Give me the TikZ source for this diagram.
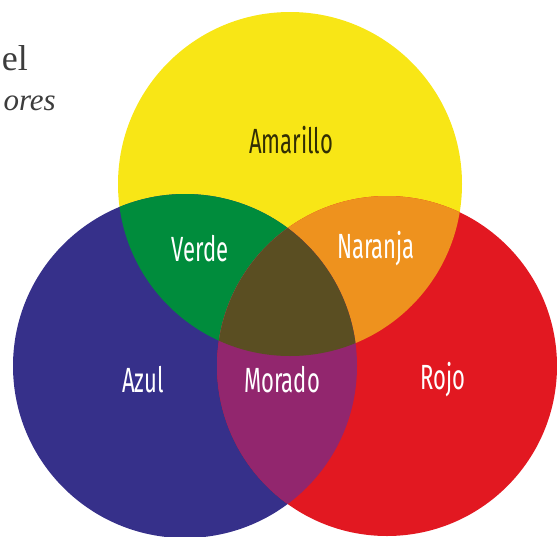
\documentclass[tikz,border=0pt]{standalone}
\usepackage{fontspec}
\usetikzlibrary{positioning}
\newfontfamily\lblfont[FakeStretch=0.63]{Fira Sans}
\newfontfamily\bookfont{Liberation Serif}
\definecolor{amar}{RGB}{248,230,22}
\definecolor{azul}{RGB}{54,48,138}
\definecolor{rojo}{RGB}{226,24,33}
\definecolor{verde}{RGB}{0,140,60}
\definecolor{naranja}{RGB}{238,146,30}
\definecolor{morado}{RGB}{146,38,110}
\definecolor{centro}{RGB}{90,78,34}
\definecolor{tinta}{RGB}{60,60,60}

\begin{document}
\begin{tikzpicture}[x=1pt, y=-1pt,
    lbl/.style={font=\lblfont\fontsize{35}{40}\selectfont, text=white, inner sep=0pt},
    txt/.style={text=tinta, inner sep=0pt, anchor=base east}]

    \useasboundingbox (0,0) rectangle (557,536);

    % centros de los circulos
    \coordinate (cA) at (290,184);
    \coordinate (cZ) at (185,366);
    \coordinate (cR) at (387,366);

    % circulos primarios
    \fill[amar] (cA) circle[radius=172];
    \fill[azul] (cZ) circle[radius=172];
    \fill[rojo] (cR) circle[radius=170];

    % mezclas de dos
    \begin{scope}
      \clip (cA) circle[radius=172];
      \fill[verde] (cZ) circle[radius=172];
      \fill[naranja] (cR) circle[radius=170];
    \end{scope}
    \begin{scope}
      \clip (cZ) circle[radius=172];
      \fill[morado] (cR) circle[radius=170];
    \end{scope}

    % mezcla de los tres
    \begin{scope}
      \clip (cA) circle[radius=172];
      \clip (cZ) circle[radius=172];
      \fill[centro] (cR) circle[radius=170];
    \end{scope}

    % etiquetas
    \node[lbl, text=black!80!amar] (amarillo) at (291,140) {Amarillo};
    \node[lbl] (verdeL) at (200,249) {Verde};
    \node[lbl] (naranjaL) at (376,249) {Naranja};
    \node[lbl] (azulL) at (143,380) {Azul};
    \node[lbl] (moradoL) at (282,380) {Morado};
    \node[lbl] (rojoL) at (443,380) {Rojo};

    % texto cortado a la izquierda
    \node[txt, font=\bookfont\fontsize{36}{36}\selectfont] (t1) at (28,70) {el};
    \node[txt, font=\bookfont\itshape\fontsize{31}{31}\selectfont] (t2) at (56,110) {ores};
\end{tikzpicture}
\end{document}
